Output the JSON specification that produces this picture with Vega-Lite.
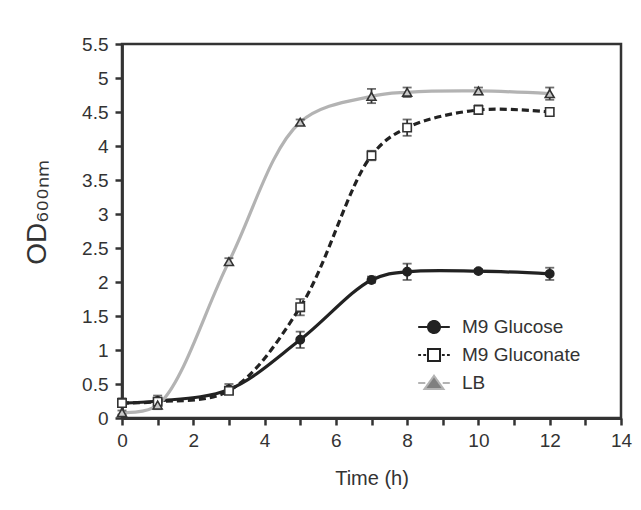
{
  "$schema": "https://vega.github.io/schema/vega-lite/v6.json",
  "width": 499,
  "height": 374,
  "padding": {"left": 23, "top": 35, "right": 9, "bottom": 20},
  "background": "white",
  "config": {
    "font": "Liberation Sans",
    "view": {"stroke": "#333333", "strokeWidth": 2.5},
    "axis": {
      "grid": false,
      "domainColor": "#333333",
      "domainWidth": 2.8,
      "tickColor": "#333333",
      "tickWidth": 2.5,
      "labelColor": "#333333",
      "titleColor": "#333333",
      "labelFont": "Liberation Sans",
      "titleFont": "Liberation Sans",
      "titleFontWeight": "normal"
    }
  },
  "data": {
    "values": [
      {"series": "M9 Glucose", "t": 0, "od": 0.22, "lo": 0.17, "hi": 0.29},
      {"series": "M9 Glucose", "t": 1, "od": 0.25, "lo": 0.2, "hi": 0.33},
      {"series": "M9 Glucose", "t": 3, "od": 0.42, "lo": 0.36, "hi": 0.5},
      {"series": "M9 Glucose", "t": 5, "od": 1.15, "lo": 1.03, "hi": 1.27},
      {"series": "M9 Glucose", "t": 7, "od": 2.03, "lo": 1.99, "hi": 2.08},
      {"series": "M9 Glucose", "t": 8, "od": 2.15, "lo": 2.03, "hi": 2.27},
      {"series": "M9 Glucose", "t": 10, "od": 2.16, "lo": 2.13, "hi": 2.19},
      {"series": "M9 Glucose", "t": 12, "od": 2.12, "lo": 2.03, "hi": 2.21},
      {"series": "M9 Gluconate", "t": 0, "od": 0.22, "lo": 0.19, "hi": 0.25},
      {"series": "M9 Gluconate", "t": 1, "od": 0.24, "lo": 0.21, "hi": 0.27},
      {"series": "M9 Gluconate", "t": 3, "od": 0.4, "lo": 0.36, "hi": 0.44},
      {"series": "M9 Gluconate", "t": 5, "od": 1.63, "lo": 1.51, "hi": 1.75},
      {"series": "M9 Gluconate", "t": 7, "od": 3.86, "lo": 3.79, "hi": 3.93},
      {"series": "M9 Gluconate", "t": 8, "od": 4.27, "lo": 4.15, "hi": 4.39},
      {"series": "M9 Gluconate", "t": 10, "od": 4.53, "lo": 4.47, "hi": 4.6},
      {"series": "M9 Gluconate", "t": 12, "od": 4.5, "lo": 4.46, "hi": 4.54},
      {"series": "LB", "t": 0, "od": 0.08, "lo": 0.05, "hi": 0.11},
      {"series": "LB", "t": 1, "od": 0.19, "lo": 0.13, "hi": 0.27},
      {"series": "LB", "t": 3, "od": 2.3, "lo": 2.25, "hi": 2.35},
      {"series": "LB", "t": 5, "od": 4.35, "lo": 4.31, "hi": 4.39},
      {"series": "LB", "t": 7, "od": 4.73, "lo": 4.63, "hi": 4.84},
      {"series": "LB", "t": 8, "od": 4.79, "lo": 4.72, "hi": 4.86},
      {"series": "LB", "t": 10, "od": 4.81, "lo": 4.76, "hi": 4.86},
      {"series": "LB", "t": 12, "od": 4.77, "lo": 4.68, "hi": 4.86}
    ]
  },
  "encoding": {
    "x": {
      "field": "t",
      "type": "quantitative",
      "scale": {"domain": [0, 14], "nice": false, "zero": false},
      "axis": {
        "title": "Time (h)",
        "values": [0,1,2,3,4,5,6,7,8,9,10,11,12,13,14],
        "labelExpr": "datum.value % 2 === 0 ? datum.label : ''",
        "tickSize": 7,
        "labelPadding": 6,
        "labelFontSize": 19,
        "titleFontSize": 20,
        "titlePadding": 18,
        "labelFlush": false
      }
    },
    "y": {
      "field": "od",
      "type": "quantitative",
      "scale": {"domain": [0, 5.5], "nice": false},
      "axis": {
        "title": "OD₆₀₀ₙₘ",
        "format": "~g",
        "values": [0,0.5,1,1.5,2,2.5,3,3.5,4,4.5,5,5.5],
        "tickSize": 7,
        "labelPadding": 7,
        "labelFontSize": 19,
        "titleFontSize": 28,
        "titlePadding": 30,
        "titleY": 168
      }
    }
  },
  "layer": [
    {
      "transform": [{"filter": "datum.series !== 'M9 Gluconate'"}],
      "mark": {"type": "line", "interpolate": "catmull-rom", "strokeWidth": 3.2},
      "encoding": {
        "color": {
          "field": "series",
          "type": "nominal",
          "scale": {"domain": ["M9 Glucose", "M9 Gluconate", "LB"], "range": ["#222222", "#222222", "#b3b3b3"]},
          "legend": {
            "title": null,
            "orient": "none",
            "legendX": 295,
            "legendY": 266,
            "labelFontSize": 19,
            "labelColor": "#333333",
            "labelFont": "Liberation Sans",
            "labelOffset": 11,
            "rowPadding": -2,
            "symbolSize": 1000,
            "symbolStrokeWidth": 2,
            "encode": {
              "symbols": {
                "update": {
                  "shape": {"signal": "datum.value === 'M9 Glucose' ? 'M-1,0H-0.3M0.3,0H1M0.38,0A0.38,0.38 0 1,1 -0.38,0A0.38,0.38 0 1,1 0.38,0Z' : datum.value === 'M9 Gluconate' ? 'M-1,0H-0.82M-0.68,0H-0.5M0.5,0H0.68M0.82,0H1M-0.38,-0.38H0.38V0.38H-0.38Z' : 'M-1,0H-0.55M0.55,0H1M0,-0.46L0.6,0.38H-0.6Z'"},
                  "fill": {"signal": "datum.value === 'M9 Glucose' ? '#222222' : datum.value === 'M9 Gluconate' ? '#ffffff' : '#808080'"},
                  "stroke": {"signal": "datum.value === 'LB' ? '#7a7a7a' : '#222222'"},
                  "strokeDash": {"value": [1, 0]},
                  "opacity": {"value": 1}
                }
              }
            }
          }
        }
      }
    },
    {
      "transform": [{"filter": "datum.series === 'M9 Gluconate'"}],
      "mark": {"type": "line", "interpolate": "catmull-rom", "strokeWidth": 3.2, "strokeDash": [7, 4]},
      "encoding": {
        "color": {"field": "series", "type": "nominal"}
      }
    },
    {
      "mark": {"type": "errorbar", "ticks": {"size": 9}, "thickness": 1.8, "color": "#333333"},
      "encoding": {
        "y": {"field": "lo", "type": "quantitative"},
        "y2": {"field": "hi"}
      }
    },
    {
      "transform": [{"filter": "datum.series === 'M9 Glucose'"}],
      "mark": {"type": "point", "shape": "circle", "filled": true, "fill": "#222222", "stroke": "#222222", "strokeWidth": 1.5, "size": 70, "opacity": 1}
    },
    {
      "transform": [{"filter": "datum.series === 'M9 Gluconate'"}],
      "mark": {"type": "point", "shape": "square", "filled": true, "fill": "#ffffff", "stroke": "#333333", "strokeWidth": 1.6, "size": 70, "opacity": 1}
    },
    {
      "transform": [{"filter": "datum.series === 'LB'"}],
      "mark": {"type": "point", "shape": "triangle-up", "filled": true, "fill": "#c8c8c8", "stroke": "#333333", "strokeWidth": 1.6, "size": 80, "opacity": 1}
    }
  ]
}
